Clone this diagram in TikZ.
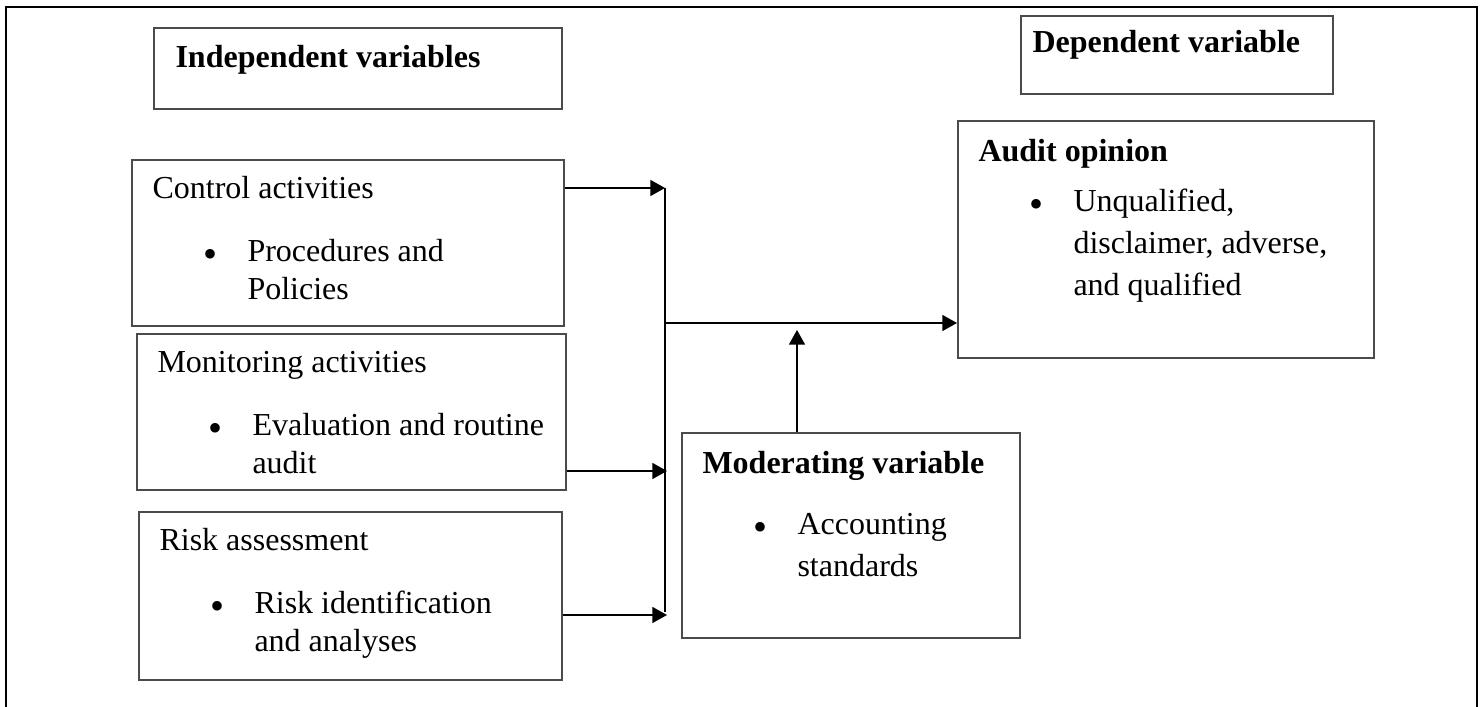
\documentclass[tikz,border=0pt]{standalone}
\usepackage{fontspec}
\setmainfont{Liberation Serif}
\usetikzlibrary{arrows.meta}

\definecolor{boxgray}{RGB}{75,75,75}

\begin{document}
\begin{tikzpicture}[x=0.375pt, y=-0.375pt,
    font=\fontsize{12}{14.25}\selectfont,
    varbox/.style={draw=boxgray, line width=0.75pt, anchor=north west, inner sep=0pt},
    boxhead/.style={anchor=base west, inner sep=0pt, font=\fontsize{12}{14.25}\selectfont\bfseries},
    boxtext/.style={anchor=base west, inner sep=0pt},
    widetext/.style={anchor=base west, inner sep=0pt, font=\fontsize{12}{15.75}\selectfont},
    dot/.style={anchor=base west, inner sep=0pt, font=\fontsize{15}{15}\selectfont},
    link/.style={line width=0.6pt, -{Triangle[length=5.5pt, width=6pt]}}]

    \useasboundingbox (0,0) rectangle (1483,707);
    % outer frame
    \draw[line width=0.75pt] (6,707) -- (6,7) -- (1477,7) -- (1477,707);

    % Header boxes
    \node[varbox, minimum width=153pt, minimum height=30.375pt] (indep) at (153,27) {};
    \node[boxhead] (indeplbl) at ([shift={(22,41)}]indep.north west) {Independent variables};

    \node[varbox, minimum width=117pt, minimum height=29.25pt] (dep) at (1020,15) {};
    \node[boxhead] (deplbl) at ([shift={(12,38)}]dep.north west) {Dependent variable};

    % Independent variables
    \node[varbox, minimum width=162pt, minimum height=62.25pt] (ctrl) at (131,159) {};
    \node[boxtext] (ctrllbl) at ([shift={(21,40)}]ctrl.north west) {Control activities};
    \node[dot] (ctrldot) at ([shift={(72,103)}]ctrl.north west) {\raisebox{-2pt}{\textbullet}};
    \node[boxtext] (ctrlitem) at ([shift={(116,103)}]ctrl.north west) {
        \begin{tabular}[t]{@{}l@{}}
        Procedures and\\
        Policies
        \end{tabular}
    };

    \node[varbox, minimum width=160.875pt, minimum height=58.5pt] (mon) at (136,333) {};
    \node[boxtext] (monlbl) at ([shift={(21,40)}]mon.north west) {Monitoring activities};
    \node[dot] (mondot) at ([shift={(72,103)}]mon.north west) {\raisebox{-2pt}{\textbullet}};
    \node[boxtext] (monitem) at ([shift={(116,103)}]mon.north west) {
        \begin{tabular}[t]{@{}l@{}}
        Evaluation and routine\\
        audit
        \end{tabular}
    };

    \node[varbox, minimum width=158.625pt, minimum height=63pt] (risk) at (138,511) {};
    \node[boxtext] (risklbl) at ([shift={(21,40)}]risk.north west) {Risk assessment};
    \node[dot] (riskdot) at ([shift={(72,103)}]risk.north west) {\raisebox{-2pt}{\textbullet}};
    \node[boxtext] (riskitem) at ([shift={(116,103)}]risk.north west) {
        \begin{tabular}[t]{@{}l@{}}
        Risk identification\\
        and analyses
        \end{tabular}
    };

    % Moderating variable
    \node[varbox, minimum width=126.75pt, minimum height=76.875pt] (mod) at (681,432) {};
    \node[boxhead] (modlbl) at ([shift={(21,42)}]mod.north west) {Moderating variable};
    \node[dot] (moddot) at ([shift={(72,103)}]mod.north west) {\raisebox{-2pt}{\textbullet}};
    \node[widetext] (moditem) at ([shift={(116,103)}]mod.north west) {
        \begin{tabular}[t]{@{}l@{}}
        Accounting\\
        standards
        \end{tabular}
    };

    % Dependent variable
    \node[varbox, minimum width=156pt, minimum height=88.875pt] (audit) at (957,120) {};
    \node[boxhead] (auditlbl) at ([shift={(21,42)}]audit.north west) {Audit opinion};
    \node[dot] (auditdot) at ([shift={(72,92)}]audit.north west) {\raisebox{-2pt}{\textbullet}};
    \node[widetext] (audititem) at ([shift={(116,92)}]audit.north west) {
        \begin{tabular}[t]{@{}l@{}}
        Unqualified,\\
        disclaimer, adverse,\\
        and qualified
        \end{tabular}
    };

    % Arrows
    \coordinate (ctrljoin) at (665,188);
    \coordinate (monjoin) at (667,471);
    \coordinate (riskjoin) at (667,615);
    \coordinate (busend) at (665,612);
    \coordinate (outjoin) at (665,323);
    \coordinate (modjoin) at (797,330);

    \draw[link] (ctrl.east |- ctrljoin) -- (ctrljoin);
    \draw[link] (mon.east |- monjoin) -- (monjoin);
    \draw[link] (risk.east |- riskjoin) -- (riskjoin);
    \draw[line width=0.6pt] (ctrljoin) -- (busend);
    \draw[link] (outjoin) -- (outjoin -| audit.west);
    \draw[link] (modjoin |- mod.north) -- (modjoin);
\end{tikzpicture}
\end{document}
